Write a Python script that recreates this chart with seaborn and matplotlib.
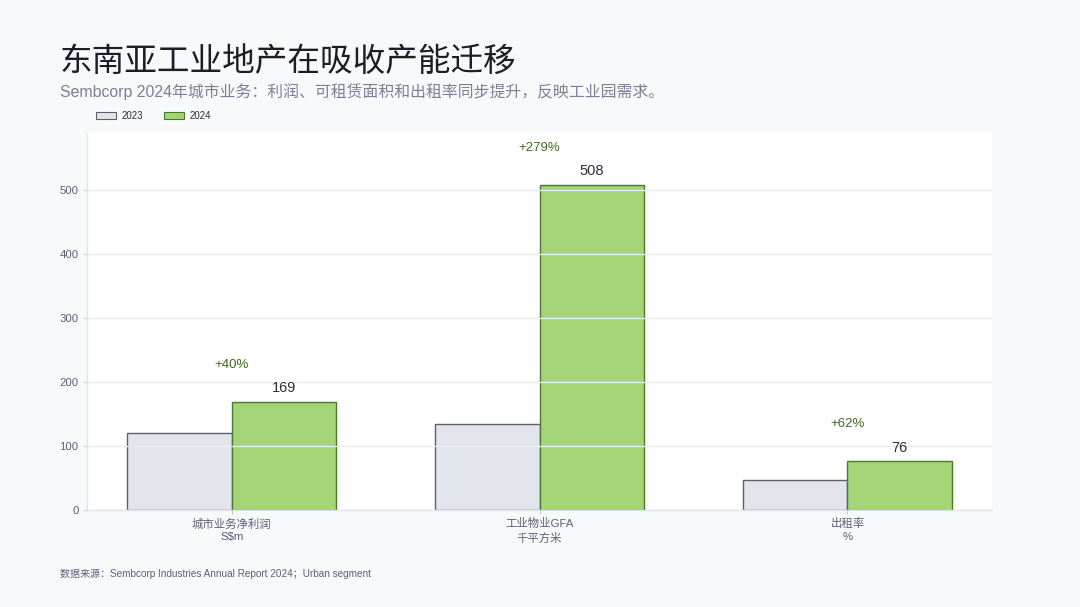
import numpy as np
import pandas as pd
import seaborn as sns
import matplotlib.pyplot as plt
from matplotlib.patches import Patch

# data
categories = ['城市业务净利润\nS$m', '工业物业GFA\n千平方米', '出租率\n%']
years = ['2023', '2024']
values_2023 = [121, 134, 47]
values_2024 = [169, 508, 76]
growth_labels = ['+40%', '+279%', '+62%']
value_labels = ['169', '508', '76']

fill_colors = {'2023': '#e2e5eb', '2024': '#a3d576'}
edge_colors = {'2023': '#5c6068', '2024': '#4b7a2c'}

df = pd.DataFrame({
    'category': categories * 2,
    'year': ['2023'] * 3 + ['2024'] * 3,
    'value': values_2023 + values_2024,
})

sns.set_theme(style='white')
plt.rcParams['font.family'] = ['Liberation Sans', 'Noto Sans CJK SC', 'DejaVu Sans']

fig = plt.figure(figsize=(10.8, 6.07), dpi=100, facecolor='#f8f9fb')
ax = fig.add_axes([0.0806, 0.1598, 0.838, 0.621])
ax.set_facecolor('white')

sns.barplot(data=df, x='category', y='value', hue='year', hue_order=years,
            palette=fill_colors, width=0.68, gap=0, ax=ax, legend=False,
            linewidth=1.0, saturation=1)

# edge colours per series
for container, yr in zip(ax.containers, years):
    for bar in container:
        bar.set_edgecolor(edge_colors[yr])
        bar.set_zorder(2)

# labels above the 2024 bars
for bar, txt in zip(ax.containers[1], value_labels):
    ax.text(bar.get_x() + bar.get_width() / 2, bar.get_height() + 10, txt,
            ha='center', va='bottom', fontsize=10.5, color='#2a2e38', zorder=4)
for i, txt in enumerate(growth_labels):
    ax.text(i, values_2024[i] + 58, txt, ha='center', va='center',
            fontsize=9.5, color='#3d6b1f', zorder=4)

ax.set_xlim(-0.47, 2.47)
ax.set_ylim(0, 589)
ax.set_yticks([0, 100, 200, 300, 400, 500])
ax.yaxis.grid(True, color='#e9ebf1', linewidth=1.0, zorder=3)
ax.set_axisbelow(False)
ax.set_xlabel('')
ax.set_ylabel('')

for side in ['top', 'right']:
    ax.spines[side].set_visible(False)
for side in ['left', 'bottom']:
    ax.spines[side].set_color('#e2e4ec')
    ax.spines[side].set_linewidth(1.0)
    ax.spines[side].set_zorder(1)

ax.tick_params(axis='both', which='both', labelsize=8.2, labelcolor='#5a6178',
               color='#c9ccd6', length=3, width=0.8)
ax.tick_params(axis='y', pad=3, left=True)
ax.tick_params(axis='x', pad=3, bottom=True)
for lbl in ax.get_xticklabels():
    lbl.set_linespacing(1.35)

# legend
handles = [Patch(facecolor=fill_colors[y], edgecolor=edge_colors[y], linewidth=0.8, label=y)
           for y in years]
fig.legend(handles=handles, loc='center left', bbox_to_anchor=(0.081, 0.809), ncol=2,
           frameon=False, fontsize=7, handlelength=2.0, handleheight=0.75,
           handletextpad=0.6, columnspacing=2.2, labelcolor='#2a2e38')

# titles and source
fig.text(0.0556, 0.897, '东南亚工业地产在吸收产能迁移', fontsize=23.5, color='#1b1e26',
         ha='left', va='center')
fig.text(0.0556, 0.849, 'Sembcorp 2024年城市业务：利润、可租赁面积和出租率同步提升，反映工业园需求。',
         fontsize=11.4, color='#7a8196', ha='left', va='center')
fig.text(0.0556, 0.054, '数据来源：Sembcorp Industries Annual Report 2024；Urban segment',
         fontsize=7.2, color='#5a6178', ha='left', va='center')

fig.savefig('out.png', dpi=100, facecolor=fig.get_facecolor())
